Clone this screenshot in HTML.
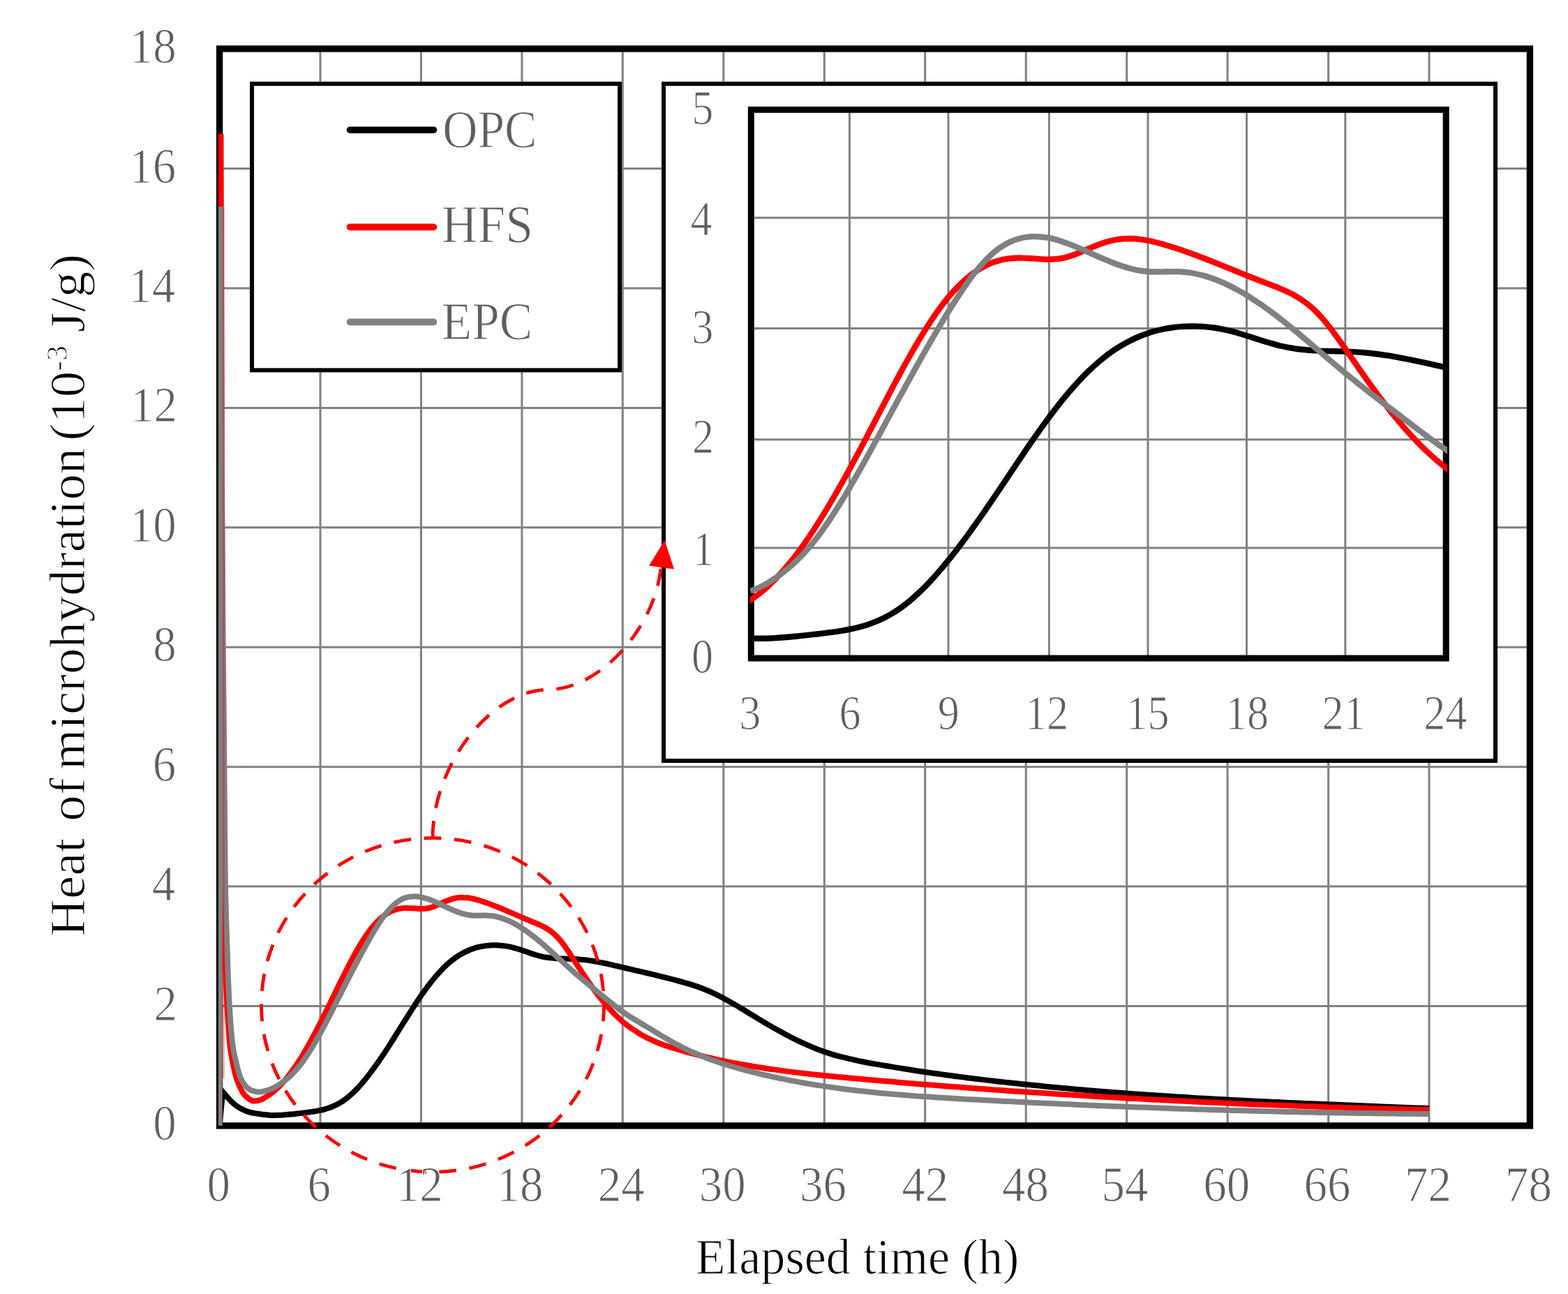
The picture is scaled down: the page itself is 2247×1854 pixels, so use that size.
<!DOCTYPE html>
<html lang="en">
<head>
<meta charset="utf-8">
<title>Heat of microhydration vs elapsed time</title>
<style>
html,body{margin:0;padding:0;background:#fff;}
body{width:2247px;height:1854px;overflow:hidden;}
svg{display:block;}
text{font-family:'Liberation Serif', 'DejaVu Serif', serif;white-space:pre;stroke:#fff;stroke-width:1.1px;paint-order:fill stroke;stroke-linejoin:round;}
.grid line{stroke:#808080;stroke-width:3;}
.curve{fill:none;stroke-width:8.0;stroke-linejoin:miter;stroke-miterlimit:3;stroke-linecap:butt;}
.ins .curve{stroke-width:8.4;}
</style>
</head>
<body>
<svg width="2247" height="1854" viewBox="0 0 2247 1854" role="img" aria-label="Heat of microhydration versus elapsed time for OPC, HFS and EPC">
<defs>
<clipPath id="mclip"><rect x="313" y="60" width="1890" height="1558"/></clipPath>
<clipPath id="iclip"><rect x="1075" y="150" width="999" height="800"/></clipPath>
</defs>
<rect x="0" y="0" width="2247" height="1854" fill="#fff"/>

<g class="grid">
<line x1="459.0" y1="70" x2="459.0" y2="1613"/>
<line x1="603.4" y1="70" x2="603.4" y2="1613"/>
<line x1="747.9" y1="70" x2="747.9" y2="1613"/>
<line x1="892.3" y1="70" x2="892.3" y2="1613"/>
<line x1="1036.8" y1="70" x2="1036.8" y2="1613"/>
<line x1="1181.3" y1="70" x2="1181.3" y2="1613"/>
<line x1="1325.7" y1="70" x2="1325.7" y2="1613"/>
<line x1="1470.2" y1="70" x2="1470.2" y2="1613"/>
<line x1="1614.7" y1="70" x2="1614.7" y2="1613"/>
<line x1="1759.1" y1="70" x2="1759.1" y2="1613"/>
<line x1="1903.6" y1="70" x2="1903.6" y2="1613"/>
<line x1="2048.0" y1="70" x2="2048.0" y2="1613"/>
<line x1="314.5" y1="1441.6" x2="2192.5" y2="1441.6"/>
<line x1="314.5" y1="1270.1" x2="2192.5" y2="1270.1"/>
<line x1="314.5" y1="1098.7" x2="2192.5" y2="1098.7"/>
<line x1="314.5" y1="927.2" x2="2192.5" y2="927.2"/>
<line x1="314.5" y1="755.8" x2="2192.5" y2="755.8"/>
<line x1="314.5" y1="584.4" x2="2192.5" y2="584.4"/>
<line x1="314.5" y1="412.9" x2="2192.5" y2="412.9"/>
<line x1="314.5" y1="241.5" x2="2192.5" y2="241.5"/>
</g>
<rect x="314.6" y="69.9" width="1877.8" height="1543" fill="none" stroke="#000" stroke-width="9.4"/>
<g clip-path="url(#mclip)">
<path class="curve" stroke="#000" d="M314.5,1613.0L319.3,1564.4C320.5,1565.8 324.1,1570.0 326.5,1572.7C328.9,1575.4 331.0,1578.0 333.8,1580.4C336.5,1582.9 339.9,1585.4 343.2,1587.3C346.4,1589.2 349.8,1590.8 353.0,1592.0C356.3,1593.2 359.0,1594.0 362.7,1594.7C366.3,1595.5 370.7,1595.9 374.7,1596.5C378.7,1597.0 383.7,1597.6 386.7,1597.8C389.7,1598.1 390.7,1597.9 392.8,1597.9C394.8,1597.9 396.8,1597.9 398.8,1597.8C400.8,1597.8 402.8,1597.7 404.8,1597.6C406.8,1597.4 408.8,1597.3 410.8,1597.1C412.8,1597.0 414.8,1596.8 416.8,1596.6C418.8,1596.4 420.8,1596.1 422.8,1595.9C424.9,1595.7 426.9,1595.4 428.9,1595.2C430.9,1595.0 432.9,1594.7 434.9,1594.5C436.9,1594.2 438.9,1594.0 440.9,1593.7C442.9,1593.5 444.9,1593.2 446.9,1592.9C448.9,1592.6 450.9,1592.3 452.9,1592.0C454.9,1591.6 457.0,1591.2 459.0,1590.8C461.0,1590.4 463.0,1589.9 465.0,1589.3C467.0,1588.8 469.0,1588.2 471.0,1587.5C473.0,1586.8 475.0,1586.0 477.0,1585.2C479.0,1584.3 481.0,1583.4 483.0,1582.4C485.0,1581.3 487.1,1580.2 489.1,1579.0C491.1,1577.7 493.1,1576.3 495.1,1574.9C497.1,1573.4 499.1,1571.8 501.1,1570.0C503.1,1568.3 505.1,1566.5 507.1,1564.5C509.1,1562.6 511.1,1560.5 513.1,1558.4C515.1,1556.2 517.1,1554.0 519.2,1551.6C521.2,1549.3 523.2,1546.8 525.2,1544.3C527.2,1541.8 529.2,1539.2 531.2,1536.6C533.2,1533.9 535.2,1531.2 537.2,1528.4C539.2,1525.6 541.2,1522.8 543.2,1519.9C545.2,1517.0 547.2,1514.0 549.3,1511.0C551.3,1508.0 553.3,1504.9 555.3,1501.8C557.3,1498.8 559.3,1495.6 561.3,1492.5C563.3,1489.3 565.3,1486.2 567.3,1483.0C569.3,1479.8 571.3,1476.6 573.3,1473.3C575.3,1470.1 577.3,1466.9 579.3,1463.7C581.4,1460.5 583.4,1457.3 585.4,1454.1C587.4,1451.0 589.4,1447.8 591.4,1444.7C593.4,1441.6 595.4,1438.5 597.4,1435.5C599.4,1432.5 601.4,1429.5 603.4,1426.6C605.4,1423.7 607.4,1420.9 609.4,1418.1C611.4,1415.3 613.5,1412.6 615.5,1410.0C617.5,1407.4 619.5,1404.9 621.5,1402.5C623.5,1400.0 625.5,1397.7 627.5,1395.4C629.5,1393.1 631.5,1391.0 633.5,1388.9C635.5,1386.8 637.5,1384.8 639.5,1383.0C641.5,1381.1 643.6,1379.3 645.6,1377.7C647.6,1376.0 649.6,1374.5 651.6,1373.0C653.6,1371.5 655.6,1370.2 657.6,1368.9C659.6,1367.7 661.6,1366.5 663.6,1365.4C665.6,1364.4 667.6,1363.4 669.6,1362.5C671.6,1361.6 673.6,1360.8 675.7,1360.0C677.7,1359.3 679.7,1358.6 681.7,1358.0C683.7,1357.5 685.7,1356.9 687.7,1356.5C689.7,1356.1 691.7,1355.7 693.7,1355.4C695.7,1355.1 697.7,1354.8 699.7,1354.7C701.7,1354.5 703.7,1354.4 705.8,1354.3C707.8,1354.2 709.8,1354.2 711.8,1354.3C713.8,1354.4 715.8,1354.5 717.8,1354.7C719.8,1354.8 721.8,1355.1 723.8,1355.4C725.8,1355.7 727.8,1356.0 729.8,1356.4C731.8,1356.8 733.8,1357.3 735.8,1357.8C737.9,1358.3 739.9,1358.9 741.9,1359.5C743.9,1360.2 745.9,1360.8 747.9,1361.5C749.9,1362.1 751.9,1362.9 753.9,1363.5C755.9,1364.2 757.9,1364.9 759.9,1365.6C761.9,1366.3 763.9,1366.9 765.9,1367.6C768.0,1368.2 770.0,1368.8 772.0,1369.3C774.0,1369.9 776.0,1370.3 778.0,1370.8C780.0,1371.2 782.0,1371.5 784.0,1371.8C786.0,1372.1 788.0,1372.4 790.0,1372.6C792.0,1372.8 794.0,1373.0 796.0,1373.1C798.0,1373.2 800.1,1373.3 802.1,1373.4C804.1,1373.5 806.1,1373.6 808.1,1373.6C810.1,1373.7 812.1,1373.7 814.1,1373.8C816.1,1373.8 818.1,1373.9 820.1,1374.0C822.1,1374.0 824.1,1374.1 826.1,1374.2C828.1,1374.4 830.1,1374.5 832.2,1374.7C834.2,1374.8 836.2,1375.0 838.2,1375.3C840.2,1375.5 842.2,1375.8 844.2,1376.1C846.2,1376.4 848.2,1376.7 850.2,1377.0C852.2,1377.4 854.2,1377.7 856.2,1378.1C858.2,1378.5 860.2,1378.9 862.3,1379.3C864.3,1379.7 866.3,1380.1 868.3,1380.5C870.3,1381.0 872.3,1381.4 874.3,1381.9C876.3,1382.3 878.3,1382.8 880.3,1383.3C882.3,1383.7 884.3,1384.2 886.3,1384.7C888.3,1385.2 890.3,1385.6 892.3,1386.1C894.4,1386.6 896.4,1387.0 898.4,1387.5C900.4,1388.0 902.4,1388.4 904.4,1388.9C906.4,1389.4 908.4,1389.8 910.4,1390.3C912.4,1390.7 914.4,1391.2 916.4,1391.7C918.4,1392.1 920.4,1392.6 922.4,1393.1C924.5,1393.5 926.5,1394.0 928.5,1394.5C930.5,1394.9 932.5,1395.4 934.5,1395.9C936.5,1396.3 938.5,1396.8 940.5,1397.3C942.5,1397.8 944.5,1398.3 946.5,1398.8C948.5,1399.3 950.5,1399.8 952.5,1400.3C954.5,1400.8 956.6,1401.3 958.6,1401.8C960.6,1402.3 962.6,1402.8 964.6,1403.4C966.6,1403.9 968.6,1404.4 970.6,1405.0C972.6,1405.5 974.6,1406.1 976.6,1406.7C978.6,1407.2 980.6,1407.8 982.6,1408.4C984.6,1409.0 986.6,1409.6 988.7,1410.2C990.7,1410.8 992.7,1411.4 994.7,1412.1C996.7,1412.7 998.7,1413.4 1000.7,1414.1C1002.7,1414.8 1004.7,1415.5 1006.7,1416.3C1008.7,1417.1 1010.7,1417.9 1012.7,1418.7C1014.7,1419.5 1016.7,1420.4 1018.8,1421.3C1020.8,1422.2 1022.8,1423.1 1024.8,1424.1C1026.8,1425.1 1028.8,1426.1 1030.8,1427.1C1032.8,1428.1 1033.8,1428.6 1036.8,1430.2C1039.8,1431.9 1044.8,1434.6 1048.8,1436.9C1052.9,1439.2 1056.9,1441.6 1060.9,1444.0C1064.9,1446.4 1068.9,1448.8 1072.9,1451.3C1076.9,1453.7 1081.0,1456.2 1085.0,1458.6C1089.0,1461.1 1093.0,1463.5 1097.0,1465.9C1101.0,1468.3 1105.0,1470.6 1109.0,1472.9C1113.1,1475.2 1117.1,1477.4 1121.1,1479.6C1125.1,1481.8 1129.1,1483.9 1133.1,1486.0C1137.1,1488.0 1141.1,1490.0 1145.2,1491.9C1149.2,1493.8 1153.2,1495.7 1157.2,1497.4C1161.2,1499.2 1165.2,1500.9 1169.2,1502.4C1173.2,1504.0 1177.3,1505.5 1181.3,1506.9C1185.3,1508.3 1189.3,1509.6 1193.3,1510.8C1197.3,1512.0 1201.3,1513.2 1205.3,1514.2C1209.4,1515.3 1213.4,1516.3 1217.4,1517.2C1221.4,1518.1 1225.4,1519.0 1229.4,1519.8C1233.4,1520.6 1237.5,1521.4 1241.5,1522.2C1245.5,1522.9 1249.5,1523.6 1253.5,1524.4C1257.5,1525.1 1261.5,1525.7 1265.5,1526.4C1269.6,1527.1 1273.6,1527.8 1277.6,1528.4C1281.6,1529.1 1285.6,1529.8 1289.6,1530.4C1293.6,1531.1 1297.6,1531.7 1301.7,1532.3C1305.7,1532.9 1309.7,1533.6 1313.7,1534.2C1317.7,1534.8 1321.7,1535.4 1325.7,1536.0C1329.7,1536.5 1333.8,1537.1 1337.8,1537.7C1341.8,1538.3 1345.8,1538.8 1349.8,1539.4C1353.8,1539.9 1357.8,1540.5 1361.8,1541.0C1365.9,1541.6 1369.9,1542.1 1373.9,1542.6C1377.9,1543.1 1381.9,1543.7 1385.9,1544.2C1389.9,1544.7 1394.0,1545.2 1398.0,1545.7C1402.0,1546.2 1406.0,1546.6 1410.0,1547.1C1414.0,1547.6 1418.0,1548.1 1422.0,1548.5C1426.1,1549.0 1430.1,1549.5 1434.1,1549.9C1438.1,1550.4 1442.1,1550.8 1446.1,1551.2C1450.1,1551.7 1454.1,1552.1 1458.2,1552.5C1462.2,1553.0 1466.2,1553.4 1470.2,1553.8C1474.2,1554.2 1478.2,1554.6 1482.2,1555.0C1486.2,1555.4 1490.3,1555.8 1494.3,1556.2C1498.3,1556.6 1502.3,1557.0 1506.3,1557.4C1510.3,1557.8 1514.3,1558.1 1518.4,1558.5C1522.4,1558.9 1526.4,1559.3 1530.4,1559.6C1534.4,1560.0 1538.4,1560.3 1542.4,1560.7C1546.4,1561.0 1550.5,1561.4 1554.5,1561.7C1558.5,1562.1 1562.5,1562.4 1566.5,1562.7C1570.5,1563.1 1574.5,1563.4 1578.5,1563.7C1582.6,1564.0 1586.6,1564.4 1590.6,1564.7C1594.6,1565.0 1598.6,1565.3 1602.6,1565.6C1606.6,1565.9 1610.6,1566.2 1614.7,1566.5C1618.7,1566.8 1622.7,1567.1 1626.7,1567.4C1630.7,1567.7 1634.7,1567.9 1638.7,1568.2C1642.7,1568.5 1646.8,1568.8 1650.8,1569.0C1654.8,1569.3 1658.8,1569.6 1662.8,1569.8C1666.8,1570.1 1670.8,1570.4 1674.9,1570.6C1678.9,1570.9 1682.9,1571.1 1686.9,1571.4C1690.9,1571.6 1694.9,1571.9 1698.9,1572.1C1702.9,1572.4 1707.0,1572.6 1711.0,1572.9C1715.0,1573.1 1719.0,1573.3 1723.0,1573.6C1727.0,1573.8 1731.0,1574.0 1735.0,1574.2C1739.1,1574.5 1743.1,1574.7 1747.1,1574.9C1751.1,1575.1 1755.1,1575.3 1759.1,1575.5C1763.1,1575.8 1767.1,1576.0 1771.2,1576.2C1775.2,1576.4 1779.2,1576.6 1783.2,1576.8C1787.2,1577.0 1791.2,1577.2 1795.2,1577.4C1799.2,1577.6 1803.3,1577.8 1807.3,1578.0C1811.3,1578.2 1815.3,1578.4 1819.3,1578.6C1823.3,1578.8 1827.3,1578.9 1831.4,1579.1C1835.4,1579.3 1839.4,1579.5 1843.4,1579.7C1847.4,1579.9 1851.4,1580.1 1855.4,1580.2C1859.4,1580.4 1863.5,1580.6 1867.5,1580.8C1871.5,1580.9 1875.5,1581.1 1879.5,1581.3C1883.5,1581.5 1887.5,1581.6 1891.5,1581.8C1895.6,1582.0 1899.6,1582.1 1903.6,1582.3C1907.6,1582.5 1911.6,1582.6 1915.6,1582.8C1919.6,1583.0 1923.6,1583.1 1927.7,1583.3C1931.7,1583.5 1935.7,1583.6 1939.7,1583.8C1943.7,1584.0 1947.7,1584.1 1951.7,1584.3C1955.7,1584.4 1959.8,1584.6 1963.8,1584.8C1967.8,1584.9 1971.8,1585.1 1975.8,1585.2C1979.8,1585.4 1983.8,1585.6 1987.9,1585.7C1991.9,1585.9 1995.9,1586.0 1999.9,1586.2C2003.9,1586.4 2007.9,1586.5 2011.9,1586.7C2015.9,1586.8 2020.0,1587.0 2024.0,1587.2C2028.0,1587.3 2032.0,1587.5 2036.0,1587.6C2040.0,1587.8 2046.0,1588.0 2048.0,1588.1"/>
<path class="curve" stroke="#f00" d="M314.5,1613.0L316.5,191.8C316.7,262.9 317.3,504.6 317.6,618.6C318.0,732.7 318.3,801.5 318.6,875.8C318.9,950.1 319.2,1001.5 319.6,1064.4C320.0,1127.3 320.5,1200.4 321.0,1253.0C321.5,1305.6 322.0,1348.4 322.8,1379.8C323.5,1411.3 324.5,1422.3 325.6,1441.6C326.7,1460.8 327.9,1481.5 329.2,1495.2C330.6,1509.0 332.2,1515.6 333.8,1524.0C335.5,1532.4 336.8,1538.7 339.2,1545.7C341.6,1552.7 345.3,1561.1 348.2,1565.9C351.1,1570.6 353.9,1572.5 356.6,1574.4C359.4,1576.4 361.8,1577.5 364.8,1577.6C367.8,1577.7 372.0,1576.2 374.7,1575.3C377.3,1574.3 378.7,1573.1 380.7,1571.9C382.7,1570.6 384.7,1569.4 386.7,1567.9C388.7,1566.5 390.7,1565.0 392.8,1563.3C394.8,1561.6 396.8,1559.8 398.8,1557.9C400.8,1555.9 402.8,1553.9 404.8,1551.7C406.8,1549.5 408.8,1547.1 410.8,1544.7C412.8,1542.3 414.8,1539.7 416.8,1537.0C418.8,1534.3 420.8,1531.5 422.8,1528.6C424.9,1525.7 426.9,1522.6 428.9,1519.5C430.9,1516.3 432.9,1513.1 434.9,1509.7C436.9,1506.4 438.9,1502.9 440.9,1499.4C442.9,1495.8 444.9,1492.2 446.9,1488.5C448.9,1484.8 450.9,1481.1 452.9,1477.3C454.9,1473.4 457.0,1469.5 459.0,1465.6C461.0,1461.7 463.0,1457.7 465.0,1453.7C467.0,1449.7 469.0,1445.6 471.0,1441.5C473.0,1437.4 475.0,1433.3 477.0,1429.2C479.0,1425.1 481.0,1420.9 483.0,1416.8C485.0,1412.7 487.1,1408.6 489.1,1404.5C491.1,1400.5 493.1,1396.4 495.1,1392.5C497.1,1388.5 499.1,1384.6 501.1,1380.7C503.1,1376.9 505.1,1373.1 507.1,1369.4C509.1,1365.8 511.1,1362.2 513.1,1358.7C515.1,1355.3 517.1,1351.9 519.2,1348.7C521.2,1345.5 523.2,1342.4 525.2,1339.5C527.2,1336.6 529.2,1333.9 531.2,1331.3C533.2,1328.7 535.2,1326.3 537.2,1324.1C539.2,1321.8 541.2,1319.8 543.2,1317.9C545.2,1316.0 547.2,1314.3 549.3,1312.8C551.3,1311.2 553.3,1309.8 555.3,1308.6C557.3,1307.4 559.3,1306.3 561.3,1305.4C563.3,1304.5 565.3,1303.8 567.3,1303.2C569.3,1302.5 571.3,1302.1 573.3,1301.7C575.3,1301.4 577.3,1301.2 579.3,1301.0C581.4,1300.9 583.4,1300.9 585.4,1301.0C587.4,1301.0 589.4,1301.2 591.4,1301.3C593.4,1301.5 595.4,1301.7 597.4,1301.8C599.4,1301.9 601.4,1302.1 603.4,1302.1C605.4,1302.1 607.4,1302.0 609.4,1301.8C611.4,1301.6 613.5,1301.3 615.5,1300.8C617.5,1300.3 619.5,1299.6 621.5,1298.9C623.5,1298.2 625.5,1297.3 627.5,1296.4C629.5,1295.5 631.5,1294.5 633.5,1293.6C635.5,1292.7 637.5,1291.8 639.5,1291.0C641.5,1290.2 643.6,1289.4 645.6,1288.8C647.6,1288.1 649.6,1287.5 651.6,1287.0C653.6,1286.6 655.6,1286.3 657.6,1286.1C659.6,1285.9 661.6,1285.8 663.6,1285.9C665.6,1285.9 667.6,1286.1 669.6,1286.3C671.6,1286.5 673.6,1286.9 675.7,1287.3C677.7,1287.7 679.7,1288.2 681.7,1288.7C683.7,1289.2 685.7,1289.8 687.7,1290.4C689.7,1291.0 691.7,1291.7 693.7,1292.3C695.7,1293.0 697.7,1293.7 699.7,1294.4C701.7,1295.2 703.7,1295.9 705.8,1296.7C707.8,1297.4 709.8,1298.2 711.8,1299.0C713.8,1299.8 715.8,1300.6 717.8,1301.5C719.8,1302.3 721.8,1303.2 723.8,1304.0C725.8,1304.9 727.8,1305.7 729.8,1306.6C731.8,1307.5 733.8,1308.3 735.8,1309.2C737.9,1310.1 739.9,1310.9 741.9,1311.8C743.9,1312.7 745.9,1313.6 747.9,1314.4C749.9,1315.3 751.9,1316.2 753.9,1317.0C755.9,1317.9 757.9,1318.7 759.9,1319.5C761.9,1320.4 763.9,1321.2 765.9,1322.0C768.0,1322.8 770.0,1323.6 772.0,1324.5C774.0,1325.4 776.0,1326.3 778.0,1327.3C780.0,1328.4 782.0,1329.5 784.0,1330.7C786.0,1332.0 788.0,1333.3 790.0,1334.8C792.0,1336.4 794.0,1338.1 796.0,1340.0C798.0,1341.9 800.1,1344.0 802.1,1346.4C804.1,1348.7 806.1,1351.3 808.1,1354.0C810.1,1356.7 812.1,1359.7 814.1,1362.6C816.1,1365.6 818.1,1368.7 820.1,1371.8C822.1,1374.8 824.1,1377.9 826.1,1381.0C828.1,1384.1 830.1,1387.2 832.2,1390.3C834.2,1393.3 836.2,1396.4 838.2,1399.3C840.2,1402.3 842.2,1405.2 844.2,1408.1C846.2,1411.0 848.2,1413.8 850.2,1416.6C852.2,1419.3 854.2,1422.0 856.2,1424.6C858.2,1427.3 860.2,1429.8 862.3,1432.3C864.3,1434.8 866.3,1437.2 868.3,1439.5C870.3,1441.9 872.3,1444.1 874.3,1446.3C876.3,1448.5 878.3,1450.6 880.3,1452.6C882.3,1454.6 884.3,1456.6 886.3,1458.4C888.3,1460.3 890.3,1462.1 892.3,1463.8C894.4,1465.5 896.4,1467.1 898.4,1468.7C900.4,1470.2 902.4,1471.7 904.4,1473.1C906.4,1474.6 908.4,1475.9 910.4,1477.2C912.4,1478.5 914.4,1479.8 916.4,1481.0C918.4,1482.2 920.4,1483.3 922.4,1484.4C924.5,1485.5 926.5,1486.5 928.5,1487.5C930.5,1488.5 932.5,1489.4 934.5,1490.4C936.5,1491.3 938.5,1492.1 940.5,1493.0C942.5,1493.8 944.5,1494.6 946.5,1495.4C948.5,1496.1 950.5,1496.9 952.5,1497.6C954.5,1498.3 956.6,1499.0 958.6,1499.6C960.6,1500.3 962.6,1500.9 964.6,1501.5C966.6,1502.2 968.6,1502.8 970.6,1503.4C972.6,1504.0 974.6,1504.5 976.6,1505.1C978.6,1505.7 980.6,1506.3 982.6,1506.8C984.6,1507.4 986.6,1507.9 988.7,1508.5C990.7,1509.0 992.7,1509.6 994.7,1510.1C996.7,1510.6 998.7,1511.1 1000.7,1511.6C1002.7,1512.1 1004.7,1512.6 1006.7,1513.1C1008.7,1513.6 1010.7,1514.1 1012.7,1514.6C1014.7,1515.1 1016.7,1515.5 1018.8,1516.0C1020.8,1516.5 1022.8,1516.9 1024.8,1517.4C1026.8,1517.8 1028.8,1518.3 1030.8,1518.7C1032.8,1519.1 1033.8,1519.3 1036.8,1520.0C1039.8,1520.6 1044.8,1521.6 1048.8,1522.4C1052.9,1523.2 1056.9,1523.9 1060.9,1524.7C1064.9,1525.4 1068.9,1526.1 1072.9,1526.8C1076.9,1527.5 1081.0,1528.2 1085.0,1528.8C1089.0,1529.5 1093.0,1530.1 1097.0,1530.7C1101.0,1531.3 1105.0,1531.9 1109.0,1532.4C1113.1,1533.0 1117.1,1533.5 1121.1,1534.1C1125.1,1534.6 1129.1,1535.1 1133.1,1535.6C1137.1,1536.1 1141.1,1536.6 1145.2,1537.1C1149.2,1537.5 1153.2,1538.0 1157.2,1538.4C1161.2,1538.9 1165.2,1539.3 1169.2,1539.7C1173.2,1540.2 1177.3,1540.6 1181.3,1541.0C1185.3,1541.4 1189.3,1541.8 1193.3,1542.2C1197.3,1542.6 1201.3,1543.0 1205.3,1543.3C1209.4,1543.7 1213.4,1544.1 1217.4,1544.5C1221.4,1544.8 1225.4,1545.2 1229.4,1545.6C1233.4,1545.9 1237.5,1546.3 1241.5,1546.7C1245.5,1547.0 1249.5,1547.4 1253.5,1547.7C1257.5,1548.1 1261.5,1548.4 1265.5,1548.8C1269.6,1549.1 1273.6,1549.5 1277.6,1549.8C1281.6,1550.2 1285.6,1550.5 1289.6,1550.9C1293.6,1551.2 1297.6,1551.5 1301.7,1551.9C1305.7,1552.2 1309.7,1552.5 1313.7,1552.9C1317.7,1553.2 1321.7,1553.5 1325.7,1553.8C1329.7,1554.2 1333.8,1554.5 1337.8,1554.8C1341.8,1555.1 1345.8,1555.4 1349.8,1555.7C1353.8,1556.1 1357.8,1556.4 1361.8,1556.7C1365.9,1557.0 1369.9,1557.3 1373.9,1557.6C1377.9,1557.9 1381.9,1558.2 1385.9,1558.5C1389.9,1558.8 1394.0,1559.1 1398.0,1559.4C1402.0,1559.7 1406.0,1560.0 1410.0,1560.3C1414.0,1560.6 1418.0,1560.9 1422.0,1561.2C1426.1,1561.4 1430.1,1561.7 1434.1,1562.0C1438.1,1562.3 1442.1,1562.6 1446.1,1562.9C1450.1,1563.1 1454.1,1563.4 1458.2,1563.7C1462.2,1564.0 1466.2,1564.3 1470.2,1564.5C1474.2,1564.8 1478.2,1565.1 1482.2,1565.3C1486.2,1565.6 1490.3,1565.9 1494.3,1566.1C1498.3,1566.4 1502.3,1566.7 1506.3,1566.9C1510.3,1567.2 1514.3,1567.4 1518.4,1567.7C1522.4,1567.9 1526.4,1568.2 1530.4,1568.4C1534.4,1568.7 1538.4,1568.9 1542.4,1569.2C1546.4,1569.4 1550.5,1569.7 1554.5,1569.9C1558.5,1570.2 1562.5,1570.4 1566.5,1570.7C1570.5,1570.9 1574.5,1571.1 1578.5,1571.4C1582.6,1571.6 1586.6,1571.8 1590.6,1572.1C1594.6,1572.3 1598.6,1572.5 1602.6,1572.8C1606.6,1573.0 1610.6,1573.2 1614.7,1573.4C1618.7,1573.7 1622.7,1573.9 1626.7,1574.1C1630.7,1574.3 1634.7,1574.5 1638.7,1574.8C1642.7,1575.0 1646.8,1575.2 1650.8,1575.4C1654.8,1575.6 1658.8,1575.8 1662.8,1576.0C1666.8,1576.2 1670.8,1576.4 1674.9,1576.6C1678.9,1576.8 1682.9,1577.0 1686.9,1577.2C1690.9,1577.4 1694.9,1577.6 1698.9,1577.8C1702.9,1578.0 1707.0,1578.2 1711.0,1578.4C1715.0,1578.6 1719.0,1578.8 1723.0,1579.0C1727.0,1579.2 1731.0,1579.4 1735.0,1579.5C1739.1,1579.7 1743.1,1579.9 1747.1,1580.1C1751.1,1580.3 1755.1,1580.5 1759.1,1580.6C1763.1,1580.8 1767.1,1581.0 1771.2,1581.2C1775.2,1581.3 1779.2,1581.5 1783.2,1581.7C1787.2,1581.8 1791.2,1582.0 1795.2,1582.2C1799.2,1582.3 1803.3,1582.5 1807.3,1582.7C1811.3,1582.8 1815.3,1583.0 1819.3,1583.1C1823.3,1583.3 1827.3,1583.4 1831.4,1583.6C1835.4,1583.7 1839.4,1583.9 1843.4,1584.0C1847.4,1584.2 1851.4,1584.3 1855.4,1584.5C1859.4,1584.6 1863.5,1584.8 1867.5,1584.9C1871.5,1585.1 1875.5,1585.2 1879.5,1585.3C1883.5,1585.5 1887.5,1585.6 1891.5,1585.8C1895.6,1585.9 1899.6,1586.0 1903.6,1586.2C1907.6,1586.3 1911.6,1586.4 1915.6,1586.5C1919.6,1586.7 1923.6,1586.8 1927.7,1586.9C1931.7,1587.0 1935.7,1587.2 1939.7,1587.3C1943.7,1587.4 1947.7,1587.5 1951.7,1587.6C1955.7,1587.7 1959.8,1587.9 1963.8,1588.0C1967.8,1588.1 1971.8,1588.2 1975.8,1588.3C1979.8,1588.4 1983.8,1588.5 1987.9,1588.6C1991.9,1588.7 1995.9,1588.8 1999.9,1588.9C2003.9,1589.0 2007.9,1589.1 2011.9,1589.2C2015.9,1589.3 2020.0,1589.4 2024.0,1589.5C2028.0,1589.6 2032.0,1589.7 2036.0,1589.8C2040.0,1589.9 2046.0,1590.0 2048.0,1590.0"/>
<path class="curve" stroke="#808080" d="M314.5,1613.0L316.3,296.3C316.5,350.1 317.1,522.1 317.6,618.6C318.1,715.2 318.8,810.1 319.3,875.8C319.8,941.5 320.1,960.1 320.6,1013.0C321.1,1065.8 321.8,1147.7 322.2,1193.0C322.7,1238.3 322.6,1253.5 323.3,1284.7C324.0,1315.8 325.3,1353.8 326.2,1379.8C327.1,1405.8 327.7,1421.5 328.8,1440.7C330.0,1459.9 331.4,1481.3 333.1,1495.2C334.8,1509.1 336.9,1515.6 338.9,1524.0C340.9,1532.4 342.6,1539.8 345.3,1545.7C348.1,1551.6 351.7,1556.3 355.4,1559.4C359.2,1562.5 364.1,1563.7 367.7,1564.4C371.3,1565.1 373.9,1564.3 377.1,1563.7C380.3,1563.1 384.1,1561.9 386.7,1561.0C389.3,1560.1 390.7,1559.3 392.8,1558.3C394.8,1557.3 396.8,1556.1 398.8,1554.9C400.8,1553.6 402.8,1552.3 404.8,1550.8C406.8,1549.4 408.8,1547.8 410.8,1546.1C412.8,1544.5 414.8,1542.7 416.8,1540.8C418.8,1538.8 420.8,1536.8 422.8,1534.6C424.9,1532.4 426.9,1530.1 428.9,1527.6C430.9,1525.1 432.9,1522.5 434.9,1519.7C436.9,1516.9 438.9,1513.9 440.9,1510.9C442.9,1507.8 444.9,1504.6 446.9,1501.3C448.9,1498.0 450.9,1494.5 452.9,1491.0C454.9,1487.5 457.0,1483.9 459.0,1480.3C461.0,1476.6 463.0,1472.9 465.0,1469.1C467.0,1465.3 469.0,1461.4 471.0,1457.6C473.0,1453.7 475.0,1449.7 477.0,1445.8C479.0,1441.9 481.0,1437.9 483.0,1434.0C485.0,1430.0 487.1,1426.0 489.1,1422.1C491.1,1418.1 493.1,1414.2 495.1,1410.2C497.1,1406.3 499.1,1402.3 501.1,1398.4C503.1,1394.5 505.1,1390.6 507.1,1386.8C509.1,1382.9 511.1,1379.1 513.1,1375.3C515.1,1371.5 517.1,1367.7 519.2,1364.0C521.2,1360.3 523.2,1356.7 525.2,1353.1C527.2,1349.5 529.2,1346.0 531.2,1342.5C533.2,1339.0 535.2,1335.6 537.2,1332.3C539.2,1329.0 541.2,1325.8 543.2,1322.7C545.2,1319.7 547.2,1316.7 549.3,1313.9C551.3,1311.1 553.3,1308.5 555.3,1306.1C557.3,1303.6 559.3,1301.4 561.3,1299.4C563.3,1297.3 565.3,1295.6 567.3,1294.0C569.3,1292.4 571.3,1291.0 573.3,1289.9C575.3,1288.7 577.3,1287.8 579.3,1287.0C581.4,1286.2 583.4,1285.6 585.4,1285.2C587.4,1284.7 589.4,1284.5 591.4,1284.4C593.4,1284.2 595.4,1284.3 597.4,1284.4C599.4,1284.6 601.4,1284.9 603.4,1285.3C605.4,1285.7 607.4,1286.2 609.4,1286.8C611.4,1287.3 613.5,1288.0 615.5,1288.8C617.5,1289.5 619.5,1290.3 621.5,1291.2C623.5,1292.1 625.5,1293.0 627.5,1293.9C629.5,1294.8 631.5,1295.8 633.5,1296.8C635.5,1297.7 637.5,1298.7 639.5,1299.6C641.5,1300.6 643.6,1301.5 645.6,1302.4C647.6,1303.3 649.6,1304.2 651.6,1305.0C653.6,1305.8 655.6,1306.6 657.6,1307.3C659.6,1308.0 661.6,1308.7 663.6,1309.2C665.6,1309.8 667.6,1310.3 669.6,1310.7C671.6,1311.1 673.6,1311.3 675.7,1311.5C677.7,1311.7 679.7,1311.8 681.7,1311.8C683.7,1311.9 685.7,1311.8 687.7,1311.8C689.7,1311.7 691.7,1311.6 693.7,1311.6C695.7,1311.6 697.7,1311.6 699.7,1311.7C701.7,1311.9 703.7,1312.1 705.8,1312.3C707.8,1312.6 709.8,1313.0 711.8,1313.5C713.8,1313.9 715.8,1314.5 717.8,1315.1C719.8,1315.7 721.8,1316.4 723.8,1317.2C725.8,1317.9 727.8,1318.8 729.8,1319.7C731.8,1320.6 733.8,1321.6 735.8,1322.7C737.9,1323.7 739.9,1324.9 741.9,1326.0C743.9,1327.2 745.9,1328.5 747.9,1329.8C749.9,1331.1 751.9,1332.4 753.9,1333.8C755.9,1335.2 757.9,1336.7 759.9,1338.2C761.9,1339.7 763.9,1341.3 765.9,1342.8C768.0,1344.4 770.0,1346.1 772.0,1347.7C774.0,1349.4 776.0,1351.1 778.0,1352.8C780.0,1354.5 782.0,1356.3 784.0,1358.1C786.0,1359.8 788.0,1361.6 790.0,1363.5C792.0,1365.3 794.0,1367.1 796.0,1368.9C798.0,1370.8 800.1,1372.6 802.1,1374.4C804.1,1376.3 806.1,1378.1 808.1,1379.9C810.1,1381.8 812.1,1383.6 814.1,1385.4C816.1,1387.2 818.1,1389.0 820.1,1390.8C822.1,1392.5 824.1,1394.3 826.1,1396.0C828.1,1397.8 830.1,1399.5 832.2,1401.2C834.2,1402.9 836.2,1404.5 838.2,1406.2C840.2,1407.9 842.2,1409.5 844.2,1411.2C846.2,1412.8 848.2,1414.5 850.2,1416.1C852.2,1417.7 854.2,1419.4 856.2,1421.0C858.2,1422.6 860.2,1424.3 862.3,1425.9C864.3,1427.5 866.3,1429.1 868.3,1430.8C870.3,1432.4 872.3,1434.1 874.3,1435.7C876.3,1437.3 878.3,1439.0 880.3,1440.6C882.3,1442.2 884.3,1443.7 886.3,1445.3C888.3,1446.8 890.3,1448.3 892.3,1449.7C894.4,1451.1 896.4,1452.5 898.4,1453.8C900.4,1455.1 902.4,1456.4 904.4,1457.6C906.4,1458.9 908.4,1460.1 910.4,1461.3C912.4,1462.5 914.4,1463.7 916.4,1464.9C918.4,1466.1 920.4,1467.3 922.4,1468.5C924.5,1469.7 926.5,1470.9 928.5,1472.1C930.5,1473.3 932.5,1474.6 934.5,1475.8C936.5,1477.0 938.5,1478.2 940.5,1479.4C942.5,1480.7 944.5,1481.9 946.5,1483.1C948.5,1484.3 950.5,1485.5 952.5,1486.6C954.5,1487.8 956.6,1489.0 958.6,1490.1C960.6,1491.3 962.6,1492.4 964.6,1493.5C966.6,1494.7 968.6,1495.8 970.6,1496.8C972.6,1497.9 974.6,1499.0 976.6,1500.0C978.6,1501.0 980.6,1502.0 982.6,1503.0C984.6,1503.9 986.6,1504.9 988.7,1505.8C990.7,1506.8 992.7,1507.7 994.7,1508.5C996.7,1509.4 998.7,1510.3 1000.7,1511.1C1002.7,1512.0 1004.7,1512.8 1006.7,1513.6C1008.7,1514.4 1010.7,1515.2 1012.7,1515.9C1014.7,1516.7 1016.7,1517.5 1018.8,1518.2C1020.8,1518.9 1022.8,1519.6 1024.8,1520.3C1026.8,1521.0 1028.8,1521.7 1030.8,1522.4C1032.8,1523.0 1033.8,1523.4 1036.8,1524.3C1039.8,1525.3 1044.8,1526.8 1048.8,1528.0C1052.9,1529.2 1056.9,1530.3 1060.9,1531.4C1064.9,1532.5 1068.9,1533.6 1072.9,1534.6C1076.9,1535.6 1081.0,1536.6 1085.0,1537.6C1089.0,1538.6 1093.0,1539.6 1097.0,1540.5C1101.0,1541.4 1105.0,1542.3 1109.0,1543.2C1113.1,1544.0 1117.1,1544.9 1121.1,1545.7C1125.1,1546.5 1129.1,1547.3 1133.1,1548.1C1137.1,1548.9 1141.1,1549.6 1145.2,1550.4C1149.2,1551.1 1153.2,1551.8 1157.2,1552.5C1161.2,1553.2 1165.2,1553.8 1169.2,1554.5C1173.2,1555.1 1177.3,1555.7 1181.3,1556.3C1185.3,1556.9 1189.3,1557.5 1193.3,1558.1C1197.3,1558.6 1201.3,1559.2 1205.3,1559.7C1209.4,1560.2 1213.4,1560.7 1217.4,1561.2C1221.4,1561.7 1225.4,1562.2 1229.4,1562.7C1233.4,1563.1 1237.5,1563.6 1241.5,1564.0C1245.5,1564.4 1249.5,1564.8 1253.5,1565.2C1257.5,1565.6 1261.5,1566.0 1265.5,1566.4C1269.6,1566.8 1273.6,1567.1 1277.6,1567.5C1281.6,1567.8 1285.6,1568.2 1289.6,1568.5C1293.6,1568.8 1297.6,1569.1 1301.7,1569.5C1305.7,1569.8 1309.7,1570.1 1313.7,1570.4C1317.7,1570.6 1321.7,1570.9 1325.7,1571.2C1329.7,1571.5 1333.8,1571.7 1337.8,1572.0C1341.8,1572.3 1345.8,1572.5 1349.8,1572.8C1353.8,1573.0 1357.8,1573.2 1361.8,1573.5C1365.9,1573.7 1369.9,1574.0 1373.9,1574.2C1377.9,1574.4 1381.9,1574.6 1385.9,1574.9C1389.9,1575.1 1394.0,1575.3 1398.0,1575.5C1402.0,1575.7 1406.0,1576.0 1410.0,1576.2C1414.0,1576.4 1418.0,1576.6 1422.0,1576.8C1426.1,1577.0 1430.1,1577.2 1434.1,1577.4C1438.1,1577.7 1442.1,1577.9 1446.1,1578.1C1450.1,1578.3 1454.1,1578.5 1458.2,1578.7C1462.2,1578.9 1466.2,1579.1 1470.2,1579.3C1474.2,1579.5 1478.2,1579.7 1482.2,1579.9C1486.2,1580.1 1490.3,1580.3 1494.3,1580.5C1498.3,1580.6 1502.3,1580.8 1506.3,1581.0C1510.3,1581.2 1514.3,1581.4 1518.4,1581.6C1522.4,1581.8 1526.4,1582.0 1530.4,1582.1C1534.4,1582.3 1538.4,1582.5 1542.4,1582.7C1546.4,1582.9 1550.5,1583.0 1554.5,1583.2C1558.5,1583.4 1562.5,1583.6 1566.5,1583.7C1570.5,1583.9 1574.5,1584.1 1578.5,1584.2C1582.6,1584.4 1586.6,1584.6 1590.6,1584.7C1594.6,1584.9 1598.6,1585.1 1602.6,1585.2C1606.6,1585.4 1610.6,1585.5 1614.7,1585.7C1618.7,1585.9 1622.7,1586.0 1626.7,1586.2C1630.7,1586.3 1634.7,1586.5 1638.7,1586.6C1642.7,1586.8 1646.8,1586.9 1650.8,1587.1C1654.8,1587.2 1658.8,1587.4 1662.8,1587.5C1666.8,1587.7 1670.8,1587.8 1674.9,1587.9C1678.9,1588.1 1682.9,1588.2 1686.9,1588.4C1690.9,1588.5 1694.9,1588.6 1698.9,1588.8C1702.9,1588.9 1707.0,1589.0 1711.0,1589.2C1715.0,1589.3 1719.0,1589.4 1723.0,1589.6C1727.0,1589.7 1731.0,1589.8 1735.0,1589.9C1739.1,1590.1 1743.1,1590.2 1747.1,1590.3C1751.1,1590.4 1755.1,1590.5 1759.1,1590.7C1763.1,1590.8 1767.1,1590.9 1771.2,1591.0C1775.2,1591.1 1779.2,1591.2 1783.2,1591.3C1787.2,1591.4 1791.2,1591.6 1795.2,1591.7C1799.2,1591.8 1803.3,1591.9 1807.3,1592.0C1811.3,1592.1 1815.3,1592.2 1819.3,1592.3C1823.3,1592.4 1827.3,1592.5 1831.4,1592.6C1835.4,1592.7 1839.4,1592.8 1843.4,1592.9C1847.4,1592.9 1851.4,1593.0 1855.4,1593.1C1859.4,1593.2 1863.5,1593.3 1867.5,1593.4C1871.5,1593.5 1875.5,1593.6 1879.5,1593.6C1883.5,1593.7 1887.5,1593.8 1891.5,1593.9C1895.6,1594.0 1899.6,1594.0 1903.6,1594.1C1907.6,1594.2 1911.6,1594.3 1915.6,1594.3C1919.6,1594.4 1923.6,1594.5 1927.7,1594.5C1931.7,1594.6 1935.7,1594.7 1939.7,1594.7C1943.7,1594.8 1947.7,1594.9 1951.7,1594.9C1955.7,1595.0 1959.8,1595.1 1963.8,1595.1C1967.8,1595.2 1971.8,1595.2 1975.8,1595.3C1979.8,1595.3 1983.8,1595.4 1987.9,1595.4C1991.9,1595.5 1995.9,1595.5 1999.9,1595.6C2003.9,1595.6 2007.9,1595.7 2011.9,1595.7C2015.9,1595.8 2020.0,1595.8 2024.0,1595.8C2028.0,1595.9 2032.0,1595.9 2036.0,1596.0C2040.0,1596.0 2046.0,1596.0 2048.0,1596.1"/>
<line x1="320.4" y1="296" x2="320.4" y2="1545" stroke="#f00" stroke-opacity="0.3" stroke-width="3.2"/>
</g>
<rect x="361" y="120" width="527" height="410.4" fill="#fff" stroke="#000" stroke-width="6"/>
<line x1="501.5" y1="186.2" x2="621.5" y2="186.2" stroke="#000" stroke-width="9.6" stroke-linecap="round"/>
<text transform="translate(634.22,211.10) scale(0.9250,1)" font-size="75.2" fill="#5e5e5e">OPC</text>
<line x1="501.5" y1="325.4" x2="621.5" y2="325.4" stroke="#f00" stroke-width="9.6" stroke-linecap="round"/>
<text transform="translate(632.84,346.50) scale(0.9500,1)" font-size="75.2" fill="#5e5e5e">HFS</text>
<line x1="501.5" y1="461.4" x2="621.5" y2="461.4" stroke="#808080" stroke-width="9.6" stroke-linecap="round"/>
<text transform="translate(632.85,485.50) scale(0.9450,1)" font-size="75.2" fill="#5e5e5e">EPC</text>
<rect x="951" y="120" width="1192" height="970" fill="#fff" stroke="#000" stroke-width="6"/>
<g class="grid">
<line x1="1217.4" y1="157" x2="1217.4" y2="943"/>
<line x1="1359.0" y1="157" x2="1359.0" y2="943"/>
<line x1="1503.4" y1="157" x2="1503.4" y2="943"/>
<line x1="1645.0" y1="157" x2="1645.0" y2="943"/>
<line x1="1786.5" y1="157" x2="1786.5" y2="943"/>
<line x1="1927.8" y1="157" x2="1927.8" y2="943"/>
<line x1="1076" y1="784.9" x2="2072" y2="784.9"/>
<line x1="1076" y1="629.7" x2="2072" y2="629.7"/>
<line x1="1076" y1="470.5" x2="2072" y2="470.5"/>
<line x1="1076" y1="311.9" x2="2072" y2="311.9"/>
</g>
<rect x="1076.3" y="157.2" width="995.9" height="785.9" fill="none" stroke="#000" stroke-width="9"/>
<g clip-path="url(#iclip)" class="ins">
<path class="curve" stroke="#000" d="M1075.5,914.6C1077.5,914.6 1083.4,914.8 1087.3,914.8C1091.3,914.8 1095.2,914.8 1099.2,914.7C1103.1,914.5 1107.1,914.4 1111.0,914.1C1115.0,913.9 1118.9,913.6 1122.8,913.3C1126.8,913.0 1130.7,912.7 1134.7,912.3C1138.6,911.9 1142.6,911.5 1146.5,911.1C1150.5,910.7 1154.4,910.3 1158.3,909.8C1162.3,909.4 1166.2,908.9 1170.2,908.5C1174.1,908.0 1178.1,907.6 1182.0,907.1C1186.0,906.7 1189.9,906.2 1193.8,905.7C1197.8,905.1 1201.7,904.6 1205.7,903.9C1209.6,903.3 1213.6,902.6 1217.5,901.7C1221.5,900.9 1225.4,900.1 1229.4,899.0C1233.3,898.0 1237.2,896.9 1241.2,895.7C1245.1,894.4 1249.1,893.0 1253.0,891.4C1257.0,889.9 1260.9,888.2 1264.9,886.3C1268.8,884.4 1272.8,882.3 1276.7,880.0C1280.6,877.7 1284.6,875.2 1288.5,872.5C1292.5,869.7 1296.4,866.8 1300.4,863.6C1304.3,860.4 1308.3,857.0 1312.2,853.5C1316.1,849.9 1320.1,846.1 1324.0,842.2C1328.0,838.2 1331.9,834.1 1335.9,829.8C1339.8,825.5 1343.8,821.0 1347.7,816.4C1351.6,811.8 1355.6,807.1 1359.5,802.2C1363.5,797.3 1367.4,792.3 1371.4,787.2C1375.3,782.1 1379.3,776.8 1383.2,771.5C1387.2,766.1 1391.1,760.7 1395.0,755.2C1399.0,749.7 1402.9,744.1 1406.9,738.4C1410.8,732.7 1414.8,727.0 1418.7,721.2C1422.7,715.4 1426.6,709.6 1430.5,703.7C1434.5,697.9 1438.4,692.0 1442.4,686.1C1446.3,680.2 1450.3,674.2 1454.2,668.4C1458.2,662.5 1462.1,656.6 1466.1,650.8C1470.0,645.0 1473.9,639.2 1477.9,633.5C1481.8,627.8 1485.8,622.1 1489.7,616.6C1493.7,611.0 1497.6,605.5 1501.6,600.2C1505.5,594.9 1509.5,589.7 1513.4,584.6C1517.3,579.5 1521.3,574.6 1525.2,569.8C1529.2,565.0 1533.1,560.4 1537.1,555.9C1541.0,551.4 1545.0,547.1 1548.9,542.9C1552.8,538.8 1556.8,534.8 1560.7,531.0C1564.7,527.2 1568.6,523.5 1572.6,520.1C1576.5,516.7 1580.5,513.4 1584.4,510.4C1588.3,507.3 1592.3,504.5 1596.2,501.8C1600.2,499.1 1604.1,496.7 1608.1,494.3C1612.0,492.0 1616.0,489.9 1619.9,487.9C1623.9,485.9 1627.8,484.1 1631.7,482.5C1635.7,480.8 1639.6,479.3 1643.6,478.0C1647.5,476.6 1651.5,475.4 1655.4,474.3C1659.4,473.3 1663.3,472.3 1667.2,471.5C1671.2,470.7 1675.1,470.0 1679.1,469.5C1683.0,468.9 1687.0,468.5 1690.9,468.1C1694.9,467.8 1698.8,467.6 1702.8,467.5C1706.7,467.3 1710.6,467.3 1714.6,467.5C1718.5,467.6 1722.5,467.8 1726.4,468.1C1730.4,468.5 1734.3,468.9 1738.3,469.4C1742.2,470.0 1746.2,470.6 1750.1,471.4C1754.0,472.1 1758.0,473.0 1761.9,473.9C1765.9,474.9 1769.8,476.0 1773.8,477.1C1777.7,478.2 1781.7,479.4 1785.6,480.7C1789.5,481.9 1793.5,483.2 1797.4,484.4C1801.4,485.7 1805.3,487.0 1809.3,488.2C1813.2,489.5 1817.2,490.7 1821.1,491.8C1825.0,493.0 1829.0,494.1 1832.9,495.1C1836.9,496.0 1840.8,496.9 1844.8,497.7C1848.7,498.5 1852.7,499.1 1856.6,499.7C1860.6,500.2 1864.5,500.7 1868.4,501.0C1872.4,501.4 1876.3,501.7 1880.3,502.0C1884.2,502.2 1888.2,502.4 1892.1,502.6C1896.1,502.7 1900.0,502.8 1904.0,503.0C1907.9,503.1 1911.8,503.1 1915.8,503.3C1919.7,503.4 1923.7,503.4 1927.6,503.6C1931.6,503.7 1935.5,503.9 1939.5,504.1C1943.4,504.3 1947.3,504.6 1951.3,504.9C1955.2,505.2 1959.2,505.6 1963.1,506.0C1967.1,506.4 1971.0,506.9 1975.0,507.5C1978.9,508.0 1982.9,508.6 1986.8,509.2C1990.7,509.8 1994.7,510.5 1998.6,511.2C2002.6,511.8 2006.5,512.6 2010.5,513.3C2014.4,514.1 2018.4,514.9 2022.3,515.7C2026.2,516.5 2030.2,517.3 2034.1,518.1C2038.1,519.0 2042.0,519.8 2046.0,520.7C2049.9,521.5 2053.9,522.4 2057.8,523.3C2061.8,524.1 2065.7,525.0 2069.6,525.9C2073.6,526.7 2079.5,528.0 2081.5,528.4"/>
<path class="curve" stroke="#f00" d="M1063.7,866.9C1065.6,865.7 1071.6,862.4 1075.5,859.7C1079.4,857.1 1083.4,854.3 1087.3,851.2C1091.3,848.2 1095.2,844.8 1099.2,841.3C1103.1,837.7 1107.1,833.9 1111.0,829.9C1115.0,825.8 1118.9,821.6 1122.8,817.1C1126.8,812.6 1130.7,807.9 1134.7,803.0C1138.6,798.0 1142.6,792.9 1146.5,787.5C1150.5,782.1 1154.4,776.5 1158.3,770.8C1162.3,765.0 1166.2,759.0 1170.2,752.8C1174.1,746.7 1178.1,740.3 1182.0,733.9C1186.0,727.4 1189.9,720.7 1193.8,714.0C1197.8,707.2 1201.7,700.3 1205.7,693.2C1209.6,686.2 1213.6,679.1 1217.5,671.9C1221.5,664.6 1225.4,657.3 1229.4,649.9C1233.3,642.6 1237.2,635.1 1241.2,627.6C1245.1,620.1 1249.1,612.5 1253.0,605.0C1257.0,597.4 1260.9,589.8 1264.9,582.2C1268.8,574.7 1272.8,567.2 1276.7,559.7C1280.6,552.3 1284.6,544.8 1288.5,537.5C1292.5,530.3 1296.4,523.0 1300.4,516.0C1304.3,508.9 1308.3,502.0 1312.2,495.3C1316.1,488.5 1320.1,481.9 1324.0,475.6C1328.0,469.3 1331.9,463.1 1335.9,457.2C1339.8,451.3 1343.8,445.7 1347.7,440.3C1351.6,435.0 1355.6,429.9 1359.5,425.2C1363.5,420.5 1367.4,416.1 1371.4,412.0C1375.3,407.9 1379.3,404.1 1383.2,400.6C1387.2,397.2 1391.1,394.0 1395.0,391.2C1399.0,388.4 1402.9,385.8 1406.9,383.6C1410.8,381.3 1414.8,379.4 1418.7,377.7C1422.7,376.0 1426.6,374.7 1430.5,373.6C1434.5,372.4 1438.4,371.6 1442.4,370.9C1446.3,370.3 1450.3,369.9 1454.2,369.7C1458.2,369.5 1462.1,369.5 1466.1,369.6C1470.0,369.7 1473.9,370.0 1477.9,370.2C1481.8,370.5 1485.8,370.8 1489.7,371.1C1493.7,371.3 1497.6,371.5 1501.6,371.6C1505.5,371.6 1509.5,371.5 1513.4,371.1C1517.3,370.8 1521.3,370.2 1525.2,369.3C1529.2,368.4 1533.1,367.1 1537.1,365.8C1541.0,364.4 1545.0,362.7 1548.9,361.1C1552.8,359.5 1556.8,357.7 1560.7,356.1C1564.7,354.4 1568.6,352.8 1572.6,351.3C1576.5,349.8 1580.5,348.3 1584.4,347.1C1588.3,345.9 1592.3,344.8 1596.2,344.0C1600.2,343.2 1604.1,342.6 1608.1,342.2C1612.0,341.9 1616.0,341.8 1619.9,341.8C1623.9,341.9 1627.8,342.2 1631.7,342.6C1635.7,343.1 1639.6,343.7 1643.6,344.4C1647.5,345.1 1651.5,346.0 1655.4,347.0C1659.4,347.9 1663.3,349.0 1667.2,350.1C1671.2,351.3 1675.1,352.5 1679.1,353.7C1683.0,354.9 1687.0,356.2 1690.9,357.5C1694.9,358.9 1698.8,360.3 1702.8,361.7C1706.7,363.1 1710.6,364.5 1714.6,366.0C1718.5,367.5 1722.5,369.0 1726.4,370.5C1730.4,372.0 1734.3,373.6 1738.3,375.1C1742.2,376.7 1746.2,378.3 1750.1,379.9C1754.0,381.4 1758.0,383.1 1761.9,384.7C1765.9,386.3 1769.8,387.9 1773.8,389.5C1777.7,391.1 1781.7,392.7 1785.6,394.3C1789.5,395.8 1793.5,397.4 1797.4,399.0C1801.4,400.6 1805.3,402.1 1809.3,403.6C1813.2,405.1 1817.2,406.6 1821.1,408.1C1825.0,409.7 1829.0,411.1 1832.9,412.8C1836.9,414.4 1840.8,416.1 1844.8,418.0C1848.7,419.9 1852.7,421.8 1856.6,424.1C1860.6,426.4 1864.5,428.9 1868.4,431.7C1872.4,434.6 1876.3,437.6 1880.3,441.2C1884.2,444.7 1888.2,448.6 1892.1,452.9C1896.1,457.2 1900.0,462.0 1904.0,467.0C1907.9,472.0 1911.8,477.4 1915.8,482.8C1919.7,488.2 1923.7,493.9 1927.6,499.5C1931.6,505.2 1935.5,510.9 1939.5,516.5C1943.4,522.2 1947.3,527.9 1951.3,533.5C1955.2,539.1 1959.2,544.7 1963.1,550.2C1967.1,555.6 1971.0,561.0 1975.0,566.3C1978.9,571.6 1982.9,576.7 1986.8,581.8C1990.7,586.9 1994.7,591.8 1998.6,596.6C2002.6,601.4 2006.5,606.1 2010.5,610.7C2014.4,615.3 2018.4,619.7 2022.3,624.0C2026.2,628.3 2030.2,632.4 2034.1,636.4C2038.1,640.4 2042.0,644.3 2046.0,648.0C2049.9,651.7 2053.9,655.3 2057.8,658.7C2061.8,662.1 2065.7,665.3 2069.6,668.5C2073.6,671.6 2079.5,676.0 2081.5,677.5"/>
<path class="curve" stroke="#808080" d="M1075.5,847.0C1077.5,846.2 1083.4,843.9 1087.3,842.0C1091.3,840.2 1095.2,838.1 1099.2,835.8C1103.1,833.5 1107.1,831.0 1111.0,828.3C1115.0,825.7 1118.9,822.8 1122.8,819.7C1126.8,816.6 1130.7,813.4 1134.7,809.9C1138.6,806.3 1142.6,802.6 1146.5,798.6C1150.5,794.5 1154.4,790.3 1158.3,785.7C1162.3,781.1 1166.2,776.3 1170.2,771.1C1174.1,766.0 1178.1,760.6 1182.0,754.9C1186.0,749.3 1189.9,743.4 1193.8,737.4C1197.8,731.3 1201.7,725.0 1205.7,718.6C1209.6,712.1 1213.6,705.5 1217.5,698.8C1221.5,692.1 1225.4,685.2 1229.4,678.2C1233.3,671.3 1237.2,664.2 1241.2,657.1C1245.1,649.9 1249.1,642.7 1253.0,635.5C1257.0,628.3 1260.9,621.0 1264.9,613.8C1268.8,606.5 1272.8,599.2 1276.7,591.9C1280.6,584.7 1284.6,577.4 1288.5,570.2C1292.5,562.9 1296.4,555.7 1300.4,548.5C1304.3,541.3 1308.3,534.2 1312.2,527.1C1316.1,520.0 1320.1,513.0 1324.0,506.0C1328.0,499.1 1331.9,492.2 1335.9,485.4C1339.8,478.6 1343.8,471.9 1347.7,465.3C1351.6,458.7 1355.6,452.2 1359.5,445.8C1363.5,439.4 1367.4,433.2 1371.4,427.1C1375.3,421.1 1379.3,415.1 1383.2,409.5C1387.2,403.9 1391.1,398.4 1395.0,393.3C1399.0,388.2 1402.9,383.4 1406.9,378.9C1410.8,374.5 1414.8,370.3 1418.7,366.6C1422.7,362.9 1426.6,359.6 1430.5,356.7C1434.5,353.8 1438.4,351.3 1442.4,349.2C1446.3,347.0 1450.3,345.3 1454.2,343.9C1458.2,342.4 1462.1,341.3 1466.1,340.5C1470.0,339.7 1473.9,339.3 1477.9,339.0C1481.8,338.8 1485.8,338.9 1489.7,339.2C1493.7,339.4 1497.6,340.0 1501.6,340.7C1505.5,341.4 1509.5,342.4 1513.4,343.4C1517.3,344.5 1521.3,345.8 1525.2,347.2C1529.2,348.5 1533.1,350.0 1537.1,351.6C1541.0,353.2 1545.0,354.9 1548.9,356.6C1552.8,358.3 1556.8,360.1 1560.7,361.8C1564.7,363.6 1568.6,365.4 1572.6,367.1C1576.5,368.9 1580.5,370.6 1584.4,372.2C1588.3,373.9 1592.3,375.5 1596.2,377.0C1600.2,378.5 1604.1,379.9 1608.1,381.2C1612.0,382.5 1616.0,383.7 1619.9,384.7C1623.9,385.7 1627.8,386.6 1631.7,387.4C1635.7,388.1 1639.6,388.6 1643.6,389.0C1647.5,389.3 1651.5,389.4 1655.4,389.5C1659.4,389.5 1663.3,389.4 1667.2,389.4C1671.2,389.3 1675.1,389.1 1679.1,389.1C1683.0,389.1 1687.0,389.1 1690.9,389.3C1694.9,389.5 1698.8,389.9 1702.8,390.4C1706.7,391.0 1710.6,391.6 1714.6,392.5C1718.5,393.3 1722.5,394.3 1726.4,395.4C1730.4,396.6 1734.3,397.9 1738.3,399.3C1742.2,400.7 1746.2,402.3 1750.1,403.9C1754.0,405.6 1758.0,407.5 1761.9,409.4C1765.9,411.3 1769.8,413.4 1773.8,415.6C1777.7,417.8 1781.7,420.1 1785.6,422.4C1789.5,424.8 1793.5,427.3 1797.4,429.9C1801.4,432.5 1805.3,435.2 1809.3,437.9C1813.2,440.7 1817.2,443.5 1821.1,446.4C1825.0,449.4 1829.0,452.4 1832.9,455.4C1836.9,458.5 1840.8,461.6 1844.8,464.7C1848.7,467.9 1852.7,471.1 1856.6,474.4C1860.6,477.6 1864.5,481.0 1868.4,484.3C1872.4,487.6 1876.3,491.0 1880.3,494.3C1884.2,497.7 1888.2,501.1 1892.1,504.4C1896.1,507.8 1900.0,511.2 1904.0,514.6C1907.9,517.9 1911.8,521.3 1915.8,524.6C1919.7,527.9 1923.7,531.2 1927.6,534.5C1931.6,537.7 1935.5,540.9 1939.5,544.1C1943.4,547.3 1947.3,550.4 1951.3,553.5C1955.2,556.6 1959.2,559.7 1963.1,562.8C1967.1,565.8 1971.0,568.9 1975.0,571.9C1978.9,574.9 1982.9,577.9 1986.8,581.0C1990.7,584.0 1994.7,586.9 1998.6,589.9C2002.6,592.9 2006.5,595.9 2010.5,598.9C2014.4,601.9 2018.4,604.9 2022.3,607.9C2026.2,610.9 2030.2,614.0 2034.1,616.9C2038.1,619.9 2042.0,623.0 2046.0,625.9C2049.9,628.8 2053.9,631.7 2057.8,634.5C2061.8,637.3 2065.7,640.0 2069.6,642.7C2073.6,645.3 2079.5,648.9 2081.5,650.2"/>
</g>
<text transform="translate(991.00,963.50) scale(0.9000,1)" font-size="69.2" fill="#5e5e5e">0</text>
<text transform="translate(992.40,809.60) scale(0.9000,1)" font-size="69.2" fill="#5e5e5e">1</text>
<text transform="translate(992.09,649.20) scale(0.9000,1)" font-size="69.2" fill="#5e5e5e">2</text>
<text transform="translate(991.15,491.80) scale(0.9000,1)" font-size="69.2" fill="#5e5e5e">3</text>
<text transform="translate(989.59,337.20) scale(0.9000,1)" font-size="69.2" fill="#5e5e5e">4</text>
<text transform="translate(991.15,177.90) scale(0.9000,1)" font-size="69.2" fill="#5e5e5e">5</text>
<text transform="translate(1059.20,1044.80) scale(0.9000,1)" font-size="69.2" fill="#5e5e5e">3</text>
<text transform="translate(1202.56,1044.80) scale(0.9000,1)" font-size="69.2" fill="#5e5e5e">6</text>
<text transform="translate(1343.70,1044.80) scale(0.9000,1)" font-size="69.2" fill="#5e5e5e">9</text>
<text transform="translate(1468.91,1044.80) scale(0.9000,1)" font-size="69.2" fill="#5e5e5e">12</text>
<text transform="translate(1613.46,1044.80) scale(0.9000,1)" font-size="69.2" fill="#5e5e5e">15</text>
<text transform="translate(1755.90,1044.80) scale(0.9000,1)" font-size="69.2" fill="#5e5e5e">18</text>
<text transform="translate(1894.52,1044.80) scale(0.9000,1)" font-size="69.2" fill="#5e5e5e">21</text>
<text transform="translate(2040.14,1044.80) scale(0.9000,1)" font-size="69.2" fill="#5e5e5e">24</text>
<path d="M620,1200.7 A245.5,239.3 0 1 1 620,1679.3 A245.5,239.3 0 1 1 620,1200.7 Z" fill="none" stroke="#f00" stroke-width="4.8" stroke-dasharray="0.5714 0.4286" stroke-dashoffset="0.2857" pathLength="35"/>
<path d="M620,1201 C620,1094.5 705,988 786,988 C858,988 936.9,902.4 947,815" fill="none" stroke="#f00" stroke-width="4.8" stroke-dasharray="24.94 18.71"/>
<polygon points="952.5,774 930,810.5 966,815.5" fill="#f00"/>
<text transform="translate(219.32,1633.10) scale(0.9200,1)" font-size="72.8" fill="#5e5e5e">0</text>
<text transform="translate(220.50,1461.66) scale(0.9200,1)" font-size="72.8" fill="#5e5e5e">2</text>
<text transform="translate(217.82,1290.22) scale(0.9200,1)" font-size="72.8" fill="#5e5e5e">4</text>
<text transform="translate(218.82,1118.78) scale(0.9200,1)" font-size="72.8" fill="#5e5e5e">6</text>
<text transform="translate(219.32,947.34) scale(0.9200,1)" font-size="72.8" fill="#5e5e5e">8</text>
<text transform="translate(185.84,775.90) scale(0.9200,1)" font-size="72.8" fill="#5e5e5e">10</text>
<text transform="translate(187.01,604.46) scale(0.9200,1)" font-size="72.8" fill="#5e5e5e">12</text>
<text transform="translate(184.33,433.02) scale(0.9200,1)" font-size="72.8" fill="#5e5e5e">14</text>
<text transform="translate(185.33,261.58) scale(0.9200,1)" font-size="72.8" fill="#5e5e5e">16</text>
<text transform="translate(185.84,90.14) scale(0.9200,1)" font-size="72.8" fill="#5e5e5e">18</text>
<text transform="translate(296.56,1721.10) scale(0.9200,1)" font-size="72.8" fill="#5e5e5e">0</text>
<text transform="translate(440.60,1721.10) scale(0.9200,1)" font-size="72.8" fill="#5e5e5e">6</text>
<text transform="translate(567.65,1721.10) scale(0.9200,1)" font-size="72.8" fill="#5e5e5e">12</text>
<text transform="translate(711.52,1721.10) scale(0.9200,1)" font-size="72.8" fill="#5e5e5e">18</text>
<text transform="translate(856.74,1721.10) scale(0.9200,1)" font-size="72.8" fill="#5e5e5e">24</text>
<text transform="translate(1001.79,1721.10) scale(0.9200,1)" font-size="72.8" fill="#5e5e5e">30</text>
<text transform="translate(1146.00,1721.10) scale(0.9200,1)" font-size="72.8" fill="#5e5e5e">36</text>
<text transform="translate(1292.22,1721.10) scale(0.9200,1)" font-size="72.8" fill="#5e5e5e">42</text>
<text transform="translate(1436.09,1721.10) scale(0.9200,1)" font-size="72.8" fill="#5e5e5e">48</text>
<text transform="translate(1578.55,1721.10) scale(0.9200,1)" font-size="72.8" fill="#5e5e5e">54</text>
<text transform="translate(1724.26,1721.10) scale(0.9200,1)" font-size="72.8" fill="#5e5e5e">60</text>
<text transform="translate(1868.48,1721.10) scale(0.9200,1)" font-size="72.8" fill="#5e5e5e">66</text>
<text transform="translate(2013.02,1721.10) scale(0.9200,1)" font-size="72.8" fill="#5e5e5e">72</text>
<text transform="translate(2156.90,1721.10) scale(0.9200,1)" font-size="72.8" fill="#5e5e5e">78</text>
<text transform="translate(996.87,1824.50) scale(0.9880,1)" font-size="71" fill="#000">Elapsed time (h)</text>
<text transform="translate(120.80,1342.00) rotate(-90) scale(1.0540,1)" font-size="71" fill="#000">Heat<tspan dx="5"> of</tspan><tspan dx="-7"> microhydration</tspan><tspan dx="-8"> (10</tspan><tspan font-size="42" dy="-25">-3</tspan><tspan dy="25"> J/g)</tspan></text>
</svg>
</body>
</html>
